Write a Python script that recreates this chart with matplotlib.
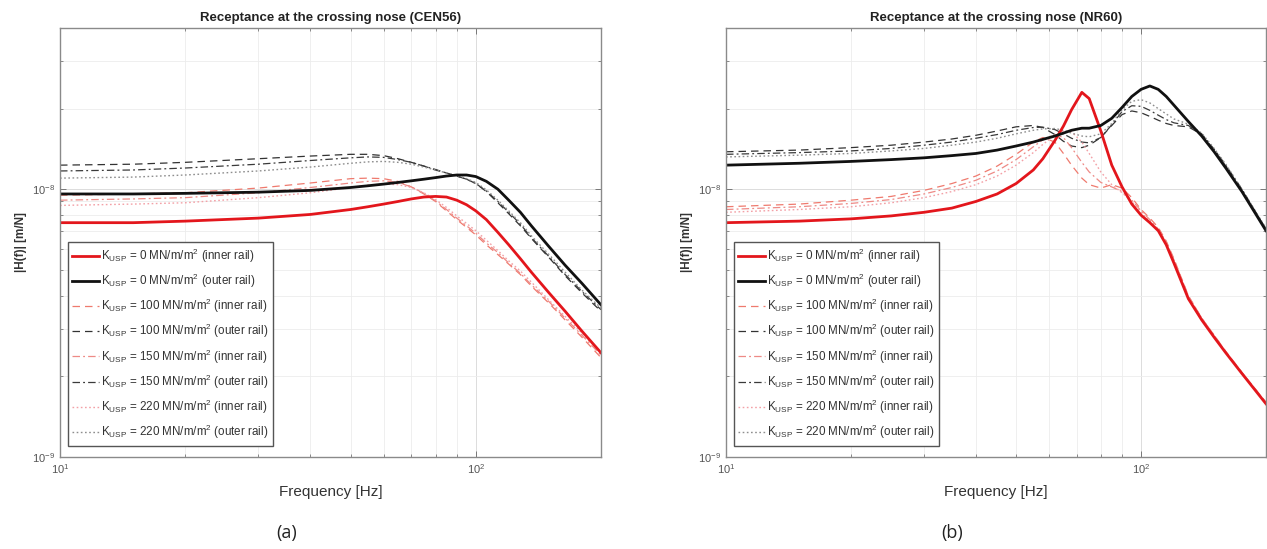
import matplotlib
matplotlib.use("Agg")
import matplotlib.pyplot as plt
import numpy as np
from matplotlib.ticker import FixedLocator, NullFormatter

plt.rcParams['font.family'] = ['Liberation Sans', 'DejaVu Sans']

# ---------------- data (values in 1e-9 m/N) ----------------
freq_cen56 = [10, 15, 20, 30, 40, 50, 55, 60, 65, 70, 75, 80, 85, 90, 95, 100,
              106, 113, 120, 128, 136, 150, 164, 180, 200]
cen56_0_inner = [7.5, 7.5, 7.6, 7.8, 8.05, 8.4, 8.6, 8.8, 9.0, 9.2, 9.35, 9.4, 9.35, 9.1, 8.75, 8.3,
                 7.7, 6.9, 6.2, 5.5, 4.9, 4.1, 3.5, 2.95, 2.45]
cen56_0_outer = [9.6, 9.6, 9.65, 9.75, 9.9, 10.15, 10.3, 10.45, 10.6, 10.75, 10.9, 11.05, 11.2, 11.3, 11.3, 11.15,
                 10.7, 10.0, 9.1, 8.2, 7.3, 6.1, 5.2, 4.45, 3.7]
cen56_100_inner = [9.5, 9.6, 9.7, 10.1, 10.55, 10.95, 11.0, 10.95, 10.7, 10.2, 9.6, 9.0, 8.3, 7.7, 7.2, 6.75,
                   6.2, 5.7, 5.25, 4.8, 4.35, 3.75, 3.25, 2.8, 2.35]
cen56_100_outer = [12.3, 12.4, 12.6, 13.0, 13.3, 13.5, 13.5, 13.35, 13.0, 12.6, 12.2, 11.8, 11.5, 11.2, 10.9, 10.5,
                   9.8, 8.9, 8.1, 7.3, 6.55, 5.55, 4.75, 4.1, 3.5]
cen56_150_inner = [9.1, 9.2, 9.3, 9.7, 10.15, 10.55, 10.7, 10.75, 10.6, 10.2, 9.65, 9.05, 8.4, 7.8, 7.3, 6.85,
                   6.3, 5.8, 5.3, 4.85, 4.4, 3.8, 3.3, 2.85, 2.4]
cen56_150_outer = [11.7, 11.8, 12.0, 12.4, 12.8, 13.1, 13.2, 13.15, 12.9, 12.6, 12.2, 11.85, 11.5, 11.2, 10.9, 10.5,
                   9.85, 9.0, 8.2, 7.4, 6.6, 5.6, 4.8, 4.15, 3.55]
cen56_220_inner = [8.7, 8.8, 8.9, 9.3, 9.7, 10.15, 10.35, 10.45, 10.4, 10.15, 9.7, 9.15, 8.55, 7.95, 7.45, 7.0,
                   6.45, 5.9, 5.4, 4.95, 4.5, 3.85, 3.35, 2.9, 2.45]
cen56_220_outer = [11.0, 11.1, 11.3, 11.7, 12.1, 12.5, 12.65, 12.7, 12.6, 12.4, 12.1, 11.8, 11.5, 11.25, 10.95, 10.6,
                   9.95, 9.1, 8.3, 7.5, 6.7, 5.7, 4.9, 4.2, 3.6]

freq_nr60 = [10, 15, 20, 25, 30, 35, 40, 45, 50, 55, 58, 62, 65, 68, 72, 75, 80, 85, 90, 95, 100,
             105, 110, 115, 120, 130, 140, 150, 160, 175, 200]
nr60_0_inner = [7.5, 7.6, 7.75, 7.95, 8.2, 8.5, 9.0, 9.6, 10.5, 11.8, 13.0, 15.2, 17.2, 19.8, 23.0, 21.8,
                16.5, 12.3, 10.2, 8.8, 8.0, 7.5, 7.0, 6.2, 5.3, 3.9, 3.25, 2.8, 2.45, 2.05, 1.58]
nr60_0_outer = [12.3, 12.5, 12.7, 12.9, 13.1, 13.35, 13.6, 14.0, 14.5, 15.0, 15.35, 15.8, 16.2, 16.6, 16.9, 16.9,
                17.3, 18.4, 20.2, 22.2, 23.6, 24.3, 23.6, 22.2, 20.6, 17.9, 15.8, 13.8, 12.0, 9.8, 7.0]
nr60_100_inner = [8.6, 8.8, 9.1, 9.4, 9.9, 10.5, 11.2, 12.2, 13.5, 15.0, 15.6, 15.0, 13.6, 12.3, 11.0, 10.4,
                  10.1, 10.4, 10.1, 9.3, 8.4, 7.8, 7.2, 6.4, 5.5, 4.0, 3.3, 2.85, 2.48, 2.07, 1.6]
nr60_100_outer = [13.8, 14.0, 14.3, 14.6, 15.0, 15.4, 15.9, 16.5, 17.1, 17.3, 17.0, 16.0, 15.1, 14.5, 14.3, 14.6,
                  15.6, 17.3, 19.0, 19.6, 19.3, 18.7, 18.1, 17.6, 17.3, 17.1, 16.0, 14.0, 12.2, 9.9, 7.1]
nr60_150_inner = [8.4, 8.6, 8.85, 9.15, 9.6, 10.15, 10.8, 11.7, 12.9, 14.4, 15.3, 16.0, 15.6, 14.3, 12.6, 11.6,
                  10.6, 10.2, 9.8, 9.1, 8.3, 7.7, 7.1, 6.35, 5.45, 4.0, 3.3, 2.85, 2.47, 2.07, 1.6]
nr60_150_outer = [13.5, 13.7, 13.9, 14.2, 14.6, 15.0, 15.5, 16.0, 16.6, 17.0, 17.05, 16.7, 16.1, 15.5, 15.0, 14.9,
                  15.6, 17.4, 19.5, 20.5, 20.4, 19.7, 18.9, 18.2, 17.7, 17.3, 16.1, 14.1, 12.3, 10.0, 7.1]
nr60_220_inner = [8.2, 8.4, 8.6, 8.9, 9.3, 9.8, 10.4, 11.2, 12.3, 13.7, 14.7, 15.9, 16.5, 16.4, 15.0, 13.6,
                  11.6, 10.4, 9.7, 9.0, 8.2, 7.6, 7.05, 6.3, 5.4, 3.95, 3.28, 2.83, 2.46, 2.06, 1.59]
nr60_220_outer = [13.2, 13.4, 13.6, 13.9, 14.2, 14.6, 15.0, 15.5, 16.1, 16.6, 16.8, 16.85, 16.6, 16.2, 15.8, 15.7,
                  16.1, 17.6, 19.8, 21.3, 21.6, 21.0, 20.0, 19.1, 18.3, 17.5, 16.2, 14.2, 12.4, 10.0, 7.15]

stiffness = ["0", "0", "100", "100", "150", "150", "220", "220"]
rails = ["inner", "outer"] * 4
titles = ["Receptance at the crossing nose (CEN56)", "Receptance at the crossing nose (NR60)"]
panel_labels = ["(a)", "(b)"]
xticks_major = [10, 100]
yticks_major = [1e-9, 1e-8]
xticks_minor = [20, 30, 40, 50, 60, 70, 80, 90, 200]
yticks_minor = [2e-9, 3e-9, 4e-9, 5e-9, 6e-9, 7e-9, 8e-9, 9e-9, 2e-8, 3e-8, 4e-8]

# ---------------- styles ----------------
styles = [
    dict(color='#e3161c', ls='-', lw=2.0),
    dict(color='#111111', ls='-', lw=2.0),
    dict(color='#ef7a6e', ls=(0, (6, 4)), lw=0.9),
    dict(color='#333333', ls=(0, (6, 4)), lw=0.9),
    dict(color='#ee8a86', ls=(0, (6, 2.5, 1.5, 2.5)), lw=0.9),
    dict(color='#3a3a3a', ls=(0, (6, 2.5, 1.5, 2.5)), lw=0.9),
    dict(color='#f3a0a6', ls=(0, (1.2, 1.8)), lw=1.0),
    dict(color='#8e8e8e', ls=(0, (1.2, 1.8)), lw=1.0),
]

series_sets = [
    (freq_cen56, [cen56_0_inner, cen56_0_outer, cen56_100_inner, cen56_100_outer,
                  cen56_150_inner, cen56_150_outer, cen56_220_inner, cen56_220_outer]),
    (freq_nr60, [nr60_0_inner, nr60_0_outer, nr60_100_inner, nr60_100_outer,
                 nr60_150_inner, nr60_150_outer, nr60_220_inner, nr60_220_outer]),
]

W, H = 1267, 549
fig = plt.figure(figsize=(W / 100, H / 100), dpi=100)
ax_rects = [
    [60 / W, (H - 457) / H, 541 / W, 429 / H],
    [726 / W, (H - 457) / H, 540 / W, 429 / H],
]
order = [2, 3, 4, 5, 6, 7, 0, 1]

for k in range(2):
    ax = fig.add_axes(ax_rects[k])
    f, data = series_sets[k]
    handles = [None] * 8
    for i in order:
        vals = np.array(data[i]) * 1e-9
        lbl = (r'$\mathregular{K_{USP}}$ = ' + stiffness[i] +
               r' MN/m/m$^\mathregular{2}$ (' + rails[i] + ' rail)')
        (ln,) = ax.plot(f, vals, label=lbl, **styles[i])
        handles[i] = ln
    ax.set_xscale('log')
    ax.set_yscale('log')
    ax.set_xlim(10, 200)
    ax.set_ylim(1e-9, 4e-8)
    ax.xaxis.set_major_locator(FixedLocator(xticks_major))
    ax.yaxis.set_major_locator(FixedLocator(yticks_major))
    ax.xaxis.set_minor_locator(FixedLocator(xticks_minor))
    ax.yaxis.set_minor_locator(FixedLocator(yticks_minor))
    ax.set_xticklabels([r'$\mathregular{10^{1}}$', r'$\mathregular{10^{2}}$'])
    ax.set_yticklabels([r'$\mathregular{10^{-9}}$', r'$\mathregular{10^{-8}}$'])
    ax.xaxis.set_minor_formatter(NullFormatter())
    ax.yaxis.set_minor_formatter(NullFormatter())
    ax.grid(True, which='major', color='#dcdcdc', lw=0.7)
    ax.grid(True, which='minor', color='#ececec', lw=0.6)
    ax.set_axisbelow(True)
    ax.tick_params(which='both', direction='in', top=True, right=True,
                   colors='#777777', labelcolor='#555555', labelsize=8)
    ax.tick_params(which='major', length=4, width=0.7)
    ax.tick_params(which='minor', length=2.2, width=0.6)
    for sp in ax.spines.values():
        sp.set_color('#8a8a8a')
        sp.set_linewidth(1.0)
    ax.set_title(titles[k], fontsize=9.5, fontweight='bold', color='#222222', pad=5)
    ax.set_xlabel('Frequency [Hz]', fontsize=11, color='#333333', labelpad=7)
    ax.set_ylabel('|H(f)| [m/N]', fontsize=8.5, fontweight='bold', color='#333333', labelpad=4)
    leg = ax.legend(handles=handles, loc='lower left', bbox_to_anchor=(0.014, 0.026),
                    fontsize=8.4, handlelength=2.3, handletextpad=0.2, labelspacing=0.6,
                    borderpad=0.4, borderaxespad=0.0, fancybox=False, framealpha=1.0,
                    edgecolor='#555555')
    leg.get_frame().set_linewidth(1.0)
    for t in leg.get_texts():
        t.set_color('#333333')

fig.text(287 / W, 1 - 533 / H, panel_labels[0], fontsize=13, ha='center', va='center',
         color='#222222', family=['Open Sans', 'DejaVu Sans'])
fig.text(952 / W, 1 - 533 / H, panel_labels[1], fontsize=13, ha='center', va='center',
         color='#222222', family=['Open Sans', 'DejaVu Sans'])

fig.savefig('out.png', dpi=100, facecolor='white')
